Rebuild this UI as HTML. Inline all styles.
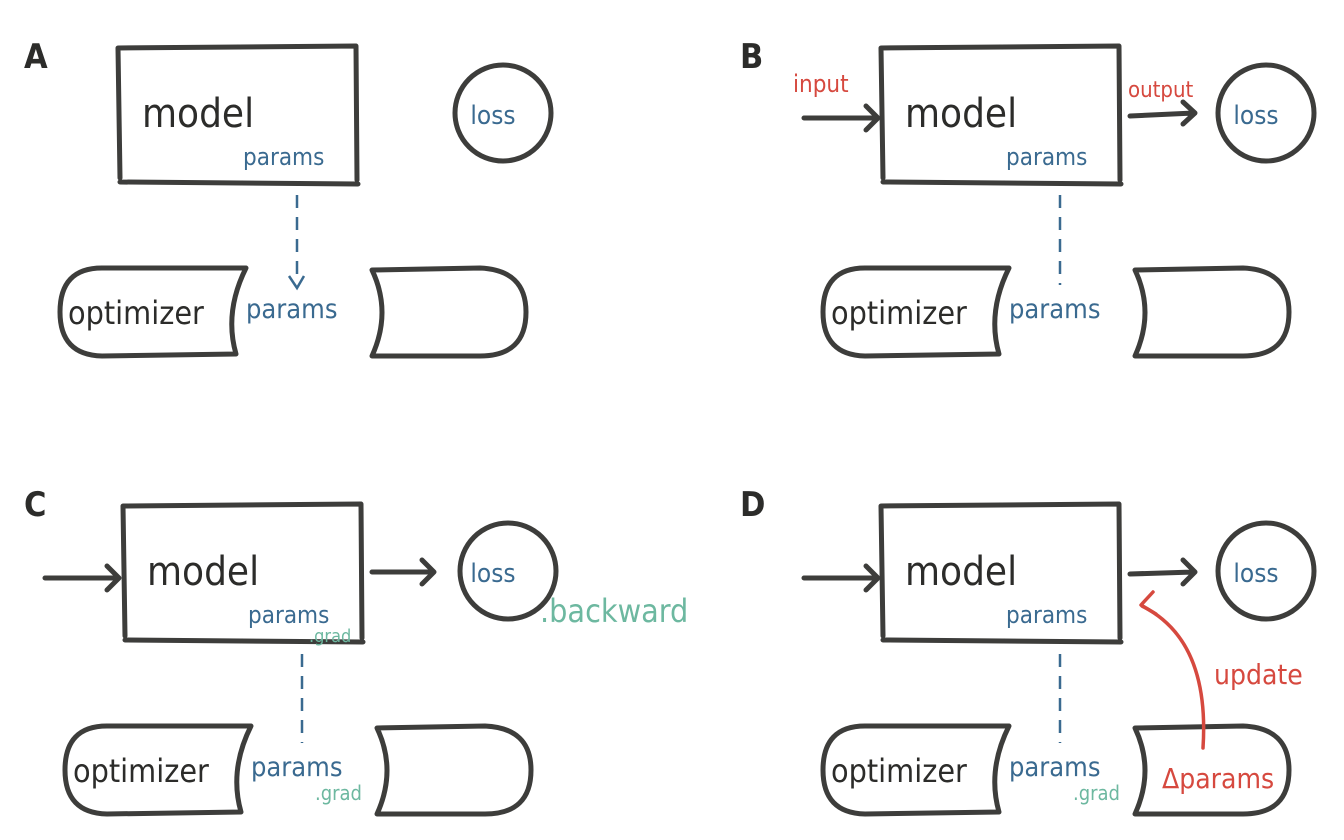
<!DOCTYPE html>
<html><head><meta charset="utf-8"><style>
html,body{margin:0;padding:0;background:#fff;}
svg{display:block}
.k{fill:none;stroke:#3d3d3b;stroke-width:5;stroke-linecap:round;stroke-linejoin:round}
.t{font-family:"DejaVu Sans Condensed","DejaVu Sans","Liberation Sans",sans-serif}
.blue{fill:#3a6a90}
.red{fill:#d6493f}
.grn{fill:#6db8a0}
.blk{fill:#2c2c2a}
</style></head><body>
<svg width="1344" height="840" viewBox="0 0 1344 840" xmlns="http://www.w3.org/2000/svg">
<defs>
<g id="base">
  <path class="k" d="M118 48 L356 46 L357 180 M118 48 L120 178 M120 182 L358 184"/>
  <circle class="k" cx="503" cy="113" r="48"/>
  <path class="k" d="M102 268 L246 268 Q224 312 236 354 L102 356 Q60 355 60 312 Q60 268 102 268 Z"/>
  <path class="k" d="M372 270 L480 268 Q526 270 526 312 Q526 356 480 356 L372 356 Q392 312 372 270 Z"/>
</g>
</defs>

<!-- Panel A -->
<text class="t blk" x="24" y="68" font-size="34" font-weight="bold">A</text>
<use href="#base"/>
<text class="t blk" x="142" y="127" font-size="40">model</text>
<text class="t blue" x="493" y="124" font-size="26" text-anchor="middle">loss</text>
<text class="t blue" x="243" y="165" font-size="24">params</text>
<path d="M297 195 L297 282" stroke="#3a6a90" stroke-width="2.5" stroke-dasharray="13,9" fill="none"/>
<path d="M289 276 L297 288 L304 276" stroke="#3a6a90" stroke-width="2.5" fill="none"/>
<text class="t blk" x="68" y="324" font-size="32">optimizer</text>
<text class="t blue" x="246" y="318" font-size="27">params</text>

<!-- Panel B -->
<g transform="translate(763,0)">
<use href="#base"/>
<text class="t blk" x="142" y="127" font-size="40">model</text>
<text class="t blue" x="493" y="124" font-size="26" text-anchor="middle">loss</text>
<text class="t blue" x="243" y="165" font-size="24">params</text>
<path d="M297 195 L297 285" stroke="#3a6a90" stroke-width="2.5" stroke-dasharray="13,9" fill="none"/>
<text class="t blk" x="68" y="324" font-size="32">optimizer</text>
<text class="t blue" x="246" y="318" font-size="27">params</text>
</g>
<text class="t blk" x="740" y="68" font-size="34" font-weight="bold">B</text>
<text class="t red" x="793" y="92" font-size="24">input</text>
<path class="k" d="M804 118 L876 118 M866 106 L878 118 L866 130"/>
<text class="t red" x="1128" y="97" font-size="22">output</text>
<path class="k" d="M1130 116 L1194 113 M1183 102 L1195 113 L1183 124"/>

<!-- Panel C -->
<text class="t blk" x="24" y="516" font-size="34" font-weight="bold">C</text>
<g transform="translate(5,458)">
<use href="#base"/>
<text class="t blk" x="142" y="127" font-size="40">model</text>
<text class="t blue" x="488" y="124" font-size="26" text-anchor="middle">loss</text>
<text class="t blue" x="243" y="165" font-size="24">params</text>
<text class="t grn" x="304" y="184" font-size="18">.grad</text>
<path d="M297 196 L297 285" stroke="#3a6a90" stroke-width="2.5" stroke-dasharray="13,9" fill="none"/>
<text class="t blk" x="68" y="324" font-size="32">optimizer</text>
<text class="t blue" x="246" y="318" font-size="27">params</text>
<text class="t grn" x="310" y="342" font-size="20">.grad</text>
</g>
<text class="t grn" x="540" y="622" font-size="32">.backward</text>
<path class="k" d="M45 578 L118 578 M107 566 L119 578 L107 590"/>
<path class="k" d="M372 572 L433 572 M422 560 L434 572 L422 584"/>

<!-- Panel D -->
<text class="t blk" x="740" y="516" font-size="34" font-weight="bold">D</text>
<g transform="translate(763,458)">
<use href="#base"/>
<text class="t blk" x="142" y="127" font-size="40">model</text>
<text class="t blue" x="493" y="124" font-size="26" text-anchor="middle">loss</text>
<text class="t blue" x="243" y="165" font-size="24">params</text>
<path d="M297 196 L297 285" stroke="#3a6a90" stroke-width="2.5" stroke-dasharray="13,9" fill="none"/>
<text class="t blk" x="68" y="324" font-size="32">optimizer</text>
<text class="t blue" x="246" y="318" font-size="27">params</text>
<text class="t grn" x="310" y="342" font-size="20">.grad</text>
</g>
<path class="k" d="M804 578 L876 578 M866 566 L878 578 L866 590"/>
<path class="k" d="M1130 574 L1194 572 M1183 560 L1195 572 L1183 584"/>
<path d="M1203 748 Q1210 640 1142 606" stroke="#d6493f" stroke-width="3.5" fill="none" stroke-linecap="round"/>
<path d="M1153 592 L1141 605 L1156 614" stroke="#d6493f" stroke-width="3.5" fill="none" stroke-linecap="round" stroke-linejoin="round"/>
<text class="t red" x="1214" y="684" font-size="28">update</text>
<text class="t red" x="1162" y="788" font-size="28">Δparams</text>
</svg>
</body></html>
